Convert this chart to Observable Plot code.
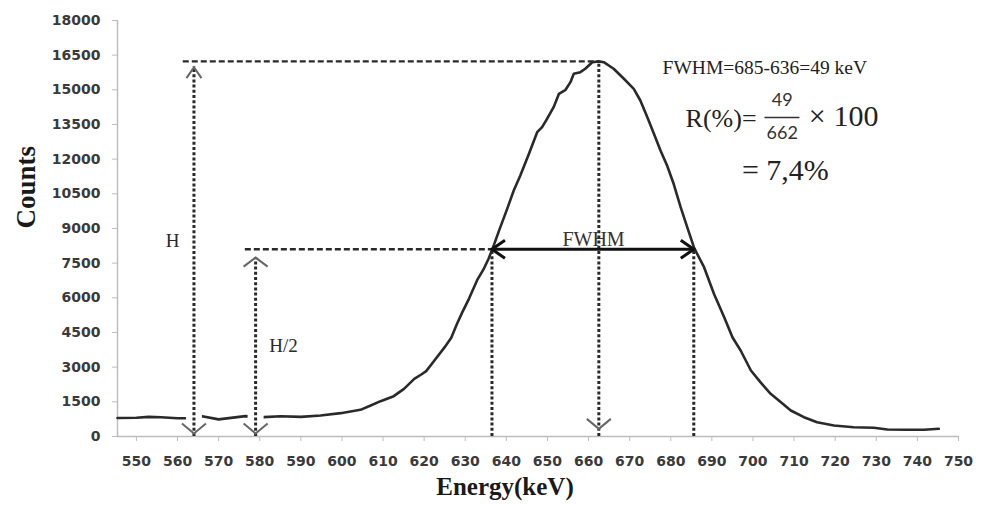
<!DOCTYPE html>
<html><head><meta charset="utf-8">
<script src="https://cdn.jsdelivr.net/npm/d3@7"></script>
<script src="https://cdn.jsdelivr.net/npm/@observablehq/plot@0.6"></script>
<style>body{margin:0;background:#fff} #chart{width:988px;height:508px}</style>
</head><body><div id="chart"></div>
<script>
// Spectrum (Energy keV, Counts)
const energy = [545.4, 550, 553, 556, 560, 563, 566, 570, 576.5, 581, 585.1, 590, 594.8, 599.7, 604.5, 607, 609.4, 612.6, 615.1, 617.6, 619.3, 620.5, 622.5, 625, 626.6, 628, 629.3, 630.9, 633, 634.5, 635.7, 637, 638.2, 640.2, 641.8, 643.4, 645.5, 647.5, 648.7, 649.9, 651.5, 652.8, 654.4, 655.6, 656.4, 658, 659.2, 660.9, 662.5, 663.7, 666.1, 668.6, 671, 672.6, 674.3, 675.9, 677.5, 679.1, 680.7, 682.4, 684, 685.7, 688.1, 690.5, 693, 695, 697, 699.5, 701.8, 704.3, 706.8, 709.2, 712.4, 715.6, 719.7, 724.5, 729.4, 732.7, 737.5, 741.6, 745.2];
const counts = [800, 810, 850, 830, 790, 790, 880, 740, 880, 840, 879, 850, 909, 1010, 1154, 1341, 1529, 1745, 2063, 2496, 2683, 2827, 3289, 3866, 4270, 4876, 5380, 5958, 6800, 7250, 7700, 8300, 8900, 9850, 10644, 11293, 12232, 13167, 13383, 13747, 14249, 14829, 15002, 15332, 15694, 15764, 15911, 16196, 16230, 16196, 15911, 15478, 15045, 14539, 13816, 13098, 12375, 11726, 10934, 9922, 9056, 8150, 7326, 6175, 5162, 4297, 3721, 2856, 2350, 1846, 1484, 1125, 835, 619, 476, 402, 376, 300, 290, 290, 333];

// Axis ticks
const xTicks = d3.range(550, 751, 10);
const yTicks = d3.range(0, 18001, 1500);

// Annotation values
const peakEnergy = 662.5, peakCounts = 16230, halfCounts = 8100;
const fwhmLow = 636.5, fwhmHigh = 685.6, hEnergy = 564, h2Energy = 579;
const fwhmFormula = "FWHM=685-636=49 keV";
const resLabel = "R(%)=", fracTop = "49", fracBottom = "662", times = "×", hundred = "100", result = "= 7,4%";

const spectrum = energy.map((e, i) => ({e, c: counts[i]}));
const ink = "#2a2a2a";
const serif = "Liberation Serif, Times New Roman, serif";

// open "V" arrow head symbol, tip at the anchor point, opening downward (rotate to orient)
function chevron(w, h) {
  return {draw(ctx, size) {
    const k = Math.sqrt(size / Math.PI);
    ctx.moveTo(-w * k, h * k);
    ctx.lineTo(0, 0);
    ctx.lineTo(w * k, h * k);
  }};
}

const plot = Plot.plot({
  width: 988, height: 508,
  marginLeft: 117, marginRight: 30, marginTop: 20, marginBottom: 72,
  style: {fontFamily: "DejaVu Sans", fontSize: "14px", fontWeight: "bold", background: "white"},
  x: {domain: [545.4, 750]},
  y: {domain: [0, 18000]},
  marks: [
    Plot.ruleY([0], {stroke: "#bdbdbd", strokeWidth: 1.5}),
    Plot.ruleX([545.4], {stroke: "#bdbdbd", strokeWidth: 1.5}),
    Plot.axisX({ticks: xTicks, tickFormat: d3.format("d"), tickSize: 5, tickPadding: 15, stroke: "#bdbdbd", fill: "#3a3a3a", label: null, fontSize: 14, fontWeight: "bold", fontFamily: "DejaVu Sans"}),
    Plot.axisY({ticks: yTicks, tickFormat: d3.format("d"), tickSize: 5, tickPadding: 12, stroke: "#bdbdbd", fill: "#3a3a3a", label: null, fontSize: 14, fontWeight: "bold", fontFamily: "DejaVu Sans"}),
    Plot.line(spectrum, {x: "e", y: "c", stroke: ink, strokeWidth: 2.6, strokeLinejoin: "round"}),
    // white gaps where the arrows cross the baseline
    Plot.ruleX([hEnergy, h2Energy], {y1: 380, y2: 1300, stroke: "white", strokeWidth: 16}),
    // dashed horizontals
    Plot.ruleY([{y: peakCounts, x1: 561.4, x2: peakEnergy}, {y: halfCounts, x1: 576.5, x2: fwhmLow}],
      {y: "y", x1: "x1", x2: "x2", stroke: ink, strokeWidth: 2.4, strokeDasharray: "6,3"}),
    // dotted verticals
    Plot.ruleX([
      {x: hEnergy, y1: 0, y2: 16000},
      {x: h2Energy, y1: 0, y2: 7750},
      {x: fwhmLow, y1: 0, y2: halfCounts},
      {x: peakEnergy, y1: 0, y2: peakCounts},
      {x: fwhmHigh, y1: 0, y2: halfCounts}
    ], {x: "x", y1: "y1", y2: "y2", stroke: ink, strokeWidth: 3, strokeDasharray: "3,2.2"}),
    // arrow heads (open V)
    Plot.dot([{x: hEnergy, y: 15980}], {x: "x", y: "y", r: 1, symbol: chevron(7.5, 11), fill: "none", stroke: "#666", strokeWidth: 2}),
    Plot.dot([{x: h2Energy, y: 7740}], {x: "x", y: "y", r: 1, symbol: chevron(12, 9), fill: "none", stroke: "#666", strokeWidth: 2}),
    Plot.dot([{x: hEnergy, y: 130}, {x: h2Energy, y: 130}, {x: peakEnergy, y: 330}], {x: "x", y: "y", r: 1, symbol: chevron(12, 10), rotate: 180, fill: "none", stroke: "#666", strokeWidth: 2}),
    // FWHM double arrow
    Plot.link([{x1: fwhmLow, x2: fwhmHigh}], {x1: "x1", x2: "x2", y1: halfCounts, y2: halfCounts, stroke: "#111", strokeWidth: 3}),
    Plot.dot([{x: fwhmLow, y: halfCounts, a: -90}, {x: fwhmHigh, y: halfCounts, a: 90}], {x: "x", y: "y", rotate: "a", r: 1, symbol: chevron(9, 13), fill: "none", stroke: "#111", strokeWidth: 3}),
    Plot.text(["FWHM"], {text: d => d, x: 661.2, y: 8500, fontFamily: serif, fontWeight: "normal", fontSize: 20, fill: "#333"}),
    Plot.text(["H"], {text: d => d, x: 558.8, y: 8480, fontFamily: serif, fontWeight: "normal", fontSize: 19, fill: ink}),
    Plot.text(["H/2"], {text: d => d, x: 585.8, y: 3940, fontFamily: serif, fontWeight: "normal", fontSize: 19, fill: ink}),
    // formula block
    Plot.text([fwhmFormula], {text: d => d, x: 678, y: 15970, textAnchor: "start", fontFamily: serif, fontWeight: "normal", fontSize: 19.5, fill: "#222"}),
    Plot.text([resLabel], {text: d => d, x: 683.6, y: 13760, textAnchor: "start", fontFamily: serif, fontWeight: "normal", fontSize: 26, fill: "#222"}),
    Plot.text([fracTop], {text: d => d, x: 707.1, y: 14540, fontFamily: "Lato", fontWeight: "normal", fontSize: 18, fill: "#333"}),
    Plot.link([{x1: 702.8, x2: 711.3}], {x1: "x1", x2: "x2", y1: 13803, y2: 13803, stroke: "#333", strokeWidth: 1.5}),
    Plot.text([fracBottom], {text: d => d, x: 707.1, y: 13110, fontFamily: "Lato", fontWeight: "normal", fontSize: 18, fill: "#333"}),
    Plot.text([times], {text: d => d, x: 715.6, y: 13846, fontFamily: serif, fontWeight: "normal", fontSize: 30, fill: "#222"}),
    Plot.text([hundred], {text: d => d, x: 719.6, y: 13846, textAnchor: "start", fontFamily: serif, fontWeight: "normal", fontSize: 30, fill: "#222"}),
    Plot.text([result], {text: d => d, x: 697.3, y: 11510, textAnchor: "start", fontFamily: serif, fontWeight: "normal", fontSize: 30, fill: "#222"}),
    // axis titles
    Plot.text(["Counts"], {text: d => d, frameAnchor: "left", dx: -91, rotate: -90, fontFamily: serif, fontWeight: "bold", fontSize: 27, fill: "#1a1a1a"}),
    Plot.text(["Energy(keV)"], {text: d => d, frameAnchor: "bottom", dx: -33, dy: 58, fontFamily: serif, fontWeight: "bold", fontSize: 25, fill: "#1a1a1a"})
  ]
});
document.getElementById("chart").appendChild(plot);
</script>
</body></html>
